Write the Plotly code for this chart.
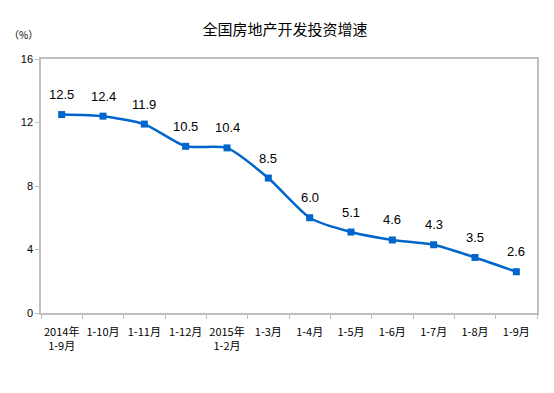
import plotly.graph_objects as go

categories = ["2014年<br>1-9月", "1-10月", "1-11月", "1-12月", "2015年<br>1-2月", "1-3月",
              "1-4月", "1-5月", "1-6月", "1-7月", "1-8月", "1-9月"]
values = [12.5, 12.4, 11.9, 10.5, 10.4, 8.5, 6.0, 5.1, 4.6, 4.3, 3.5, 2.6]
y_ticks = [0, 4, 8, 12, 16]

fig = go.Figure()
fig.add_trace(go.Scatter(
    x=categories, y=values,
    mode="lines+markers",
    line=dict(color="#0066CC", width=2.5, shape="spline", smoothing=0.6),
    marker=dict(symbol="square", size=7, color="#0066CC"),
    cliponaxis=False,
    hoverinfo="skip",
))

annotations = [dict(x=c, y=v, text=f"{v:.1f}", xref="x", yref="y", showarrow=False,
                    yshift=20, xanchor="center", yanchor="middle",
                    font=dict(family="Liberation Sans, Arial", size=13, color="#000000"))
               for c, v in zip(categories, values)]
annotations.append(dict(text="（%）", xref="paper", yref="paper", x=-0.036, y=1.098,
                        xanchor="center", yanchor="middle", showarrow=False,
                        font=dict(family="Noto Sans CJK SC", size=10, color="#000000")))

fig.update_layout(
    width=554, height=393,
    margin=dict(l=33, r=25, t=51, b=88, autoexpand=False),
    paper_bgcolor="white", plot_bgcolor="white",
    showlegend=False,
    title=dict(text="全国房地产开发投资增速", x=0.5, xanchor="center", y=0.944, yanchor="middle",
               font=dict(family="Noto Sans CJK SC", size=15, color="#000000")),
    xaxis=dict(
        type="category", tickson="boundaries", ticks="outside", ticklen=4,
        tickcolor="#BFBFBF", showline=True, linecolor="#BFBFBF", linewidth=1.5,
        mirror=True, showgrid=False, range=[-0.5, 11.5], tickangle=0, automargin=False,
        ticklabelstandoff=8,
        tickfont=dict(family="Noto Sans CJK SC", size=11, color="#000000"),
    ),
    yaxis=dict(
        range=[0, 16], tickvals=y_ticks, ticks="outside", ticklen=4,
        tickcolor="#BFBFBF", showline=True, linecolor="#BFBFBF", linewidth=1.5,
        mirror=True, showgrid=False, zeroline=False, automargin=False,
        tickfont=dict(family="Liberation Sans, Arial", size=11, color="#000000"),
    ),
    annotations=annotations,
)

fig.write_html("out.html")
